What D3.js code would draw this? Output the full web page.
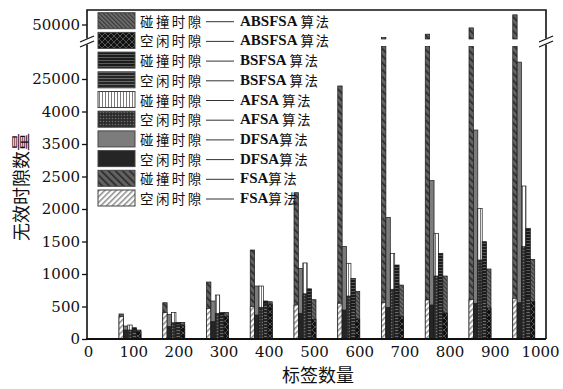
<!DOCTYPE html>
<html>
<head>
<meta charset="utf-8">
<script src="https://cdn.jsdelivr.net/npm/d3@7"></script>
<style>
  html, body { margin: 0; padding: 0; background: #fff; }
  svg { display: block; }
</style>
</head>
<body>
<svg id="chart" width="563" height="389"></svg>
<script>
// Number of tags per experiment (one group of columns per value)
const tagCounts = [100, 200, 300, 400, 500, 600, 700, 800, 900, 1000];
// Column order inside every group
const algorithms = ["FSA", "DFSA", "AFSA", "BSFSA", "ABSFSA"];

// Collision slots (碰撞时隙) per algorithm
const collisionFSA    = [385, 558, 877, 1369, 2251, 20500, 47300, 48000, 49300, 52000];
const collisionDFSA   = [200, 380, 585, 815, 1085, 1425, 1872, 2437, 3715, 27600];
const collisionAFSA   = [215, 410, 677, 815, 1170, 1165, 1318, 1626, 2010, 2354];
const collisionBSFSA  = [174, 256, 410, 585, 772, 933, 1138, 1318, 1497, 1703];
const collisionABSFSA = [138, 256, 410, 574, 605, 733, 830, 969, 1077, 1226];

// Idle slots (空闲时隙) per algorithm
const idleFSA    = [343, 405, 472, 497, 523, 550, 558, 600, 610, 626];
const idleDFSA   = [138, 190, 267, 369, 395, 446, 487, 523, 549, 558];
const idleAFSA   = [138, 250, 395, 488, 695, 661, 765, 969, 1215, 1420];
const idleBSFSA  = [128, 230, 370, 549, 430, 470, 520, 560, 600, 640];
const idleABSFSA = [112, 215, 345, 538, 300, 308, 343, 400, 477, 574];

// Axis ticks (the value axis is broken between 25000 and 50000)
const yTickValues = [0, 500, 1000, 1500, 2000, 2500, 3500, 4000, 25000];
const yTickAboveBreak = [50000];
const xTickValues = [0, 100, 200, 300, 400, 500, 600, 700, 800, 900, 1000];

// Legend rows, top to bottom
const legendSlotNames = ["碰撞时隙", "空闲时隙", "碰撞时隙", "空闲时隙", "碰撞时隙",
                         "空闲时隙", "碰撞时隙", "空闲时隙", "碰撞时隙", "空闲时隙"];
const legendAlgNames  = ["ABSFSA", "ABSFSA", "BSFSA", "BSFSA", "AFSA",
                         "AFSA", "DFSA", "DFSA", "FSA", "FSA"];
const legendSlotKeys  = ["coll", "idle", "coll", "idle", "coll",
                         "idle", "coll", "idle", "coll", "idle"];

const collisionData = { FSA: collisionFSA, DFSA: collisionDFSA, AFSA: collisionAFSA,
                        BSFSA: collisionBSFSA, ABSFSA: collisionABSFSA };
const idleData = { FSA: idleFSA, DFSA: idleDFSA, AFSA: idleAFSA,
                   BSFSA: idleBSFSA, ABSFSA: idleABSFSA };

// ---------- layout ----------
const plotLeft = 87, plotRight = 546, plotTop = 10, plotBottom = 339;
const step = 32.5;          // spacing between value-axis ticks
const lowCap = 30000;       // top of the lower (pre-break) segment
const highBase = 47000;     // bottom of the upper (post-break) segment

const svg = d3.select("#chart");
const defs = svg.append("defs");

// ---------- fill patterns ----------
function solid(id, color) {
  const p = defs.append("pattern").attr("id", id).attr("patternUnits", "userSpaceOnUse")
    .attr("width", 4).attr("height", 4);
  p.append("rect").attr("width", 4).attr("height", 4).attr("fill", color);
}
function stripes(id, bg, fg, size, angle, w) {
  const p = defs.append("pattern").attr("id", id).attr("patternUnits", "userSpaceOnUse")
    .attr("width", size).attr("height", size)
    .attr("patternTransform", `rotate(${angle})`);
  p.append("rect").attr("width", size).attr("height", size).attr("fill", bg);
  p.append("rect").attr("width", w).attr("height", size).attr("fill", fg);
}
function crosshatch(id, bg, fg, size, w) {
  const p = defs.append("pattern").attr("id", id).attr("patternUnits", "userSpaceOnUse")
    .attr("width", size).attr("height", size);
  p.append("rect").attr("width", size).attr("height", size).attr("fill", bg);
  p.append("path").attr("d", `M0,0L${size},${size}M${size},0L0,${size}`)
    .attr("stroke", fg).attr("stroke-width", w);
}
function dots(id, bg, fg, size, r) {
  const p = defs.append("pattern").attr("id", id).attr("patternUnits", "userSpaceOnUse")
    .attr("width", size).attr("height", size);
  p.append("rect").attr("width", size).attr("height", size).attr("fill", bg);
  p.append("circle").attr("cx", size / 2).attr("cy", size / 2).attr("r", r).attr("fill", fg);
}

stripes("coll-ABSFSA", "#6e6e6e", "#383838", 3, -45, 1.2);
crosshatch("idle-ABSFSA", "#111", "#555", 6, 1);
stripes("coll-BSFSA", "#1b1b1b", "#5a5a5a", 3, 90, 1);
stripes("idle-BSFSA", "#262626", "#7a7a7a", 3, 90, 0.8);
stripes("coll-AFSA", "#ffffff", "#7a7a7a", 3, 0, 1);
dots("idle-AFSA", "#2c2c2c", "#6e6e6e", 3, 0.8);
solid("coll-DFSA", "#7c7c7c");
solid("idle-DFSA", "#252525");
stripes("coll-FSA", "#626262", "#2a2a2a", 5, -45, 1.6);
stripes("idle-FSA", "#ffffff", "#8a8a8a", 4, 45, 1.5);

// ---------- scales ----------
const lowDomain = yTickValues.concat([lowCap]);
const yLow = d3.scaleLinear()
  .domain(lowDomain)
  .range(lowDomain.map((d, i) => plotBottom - i * step));
const yHigh = d3.scaleLinear().domain([highBase, 50000]).range([39, 24.5]);

const xGroup = d3.scaleLinear().domain([0, 1000]).range([86.25, 523.75]);
const xInner = d3.scaleBand().domain(algorithms).range([-11, 11]).padding(0);
const xAxisScale = d3.scaleLinear().domain([0, 1000]).range([88, 540]);

// ---------- bars ----------
const columns = [];
tagCounts.forEach((t, i) => {
  algorithms.forEach(a => {
    columns.push({ tags: t, alg: a, coll: collisionData[a][i], idle: idleData[a][i] });
  });
});

const barG = svg.append("g");
function drawBar(g, d, value, fillId) {
  const x = xGroup(d.tags) + xInner(d.alg);
  const w = xInner.bandwidth();
  const top = yLow(Math.min(value, lowCap));
  g.append("rect")
    .attr("x", x).attr("y", top)
    .attr("width", w).attr("height", yLow(0) - top)
    .attr("fill", `url(#${fillId})`)
    .attr("stroke", "#1a1a1a").attr("stroke-width", 0.7);
  if (value > highBase) {
    const hTop = yHigh(value);
    g.append("rect")
      .attr("x", x).attr("y", hTop)
      .attr("width", w).attr("height", yHigh(highBase) - hTop)
      .attr("fill", `url(#${fillId})`)
      .attr("stroke", "#1a1a1a").attr("stroke-width", 0.7);
  }
}
columns.forEach(d => {
  const g = barG.append("g");
  drawBar(g, d, d.coll, "coll-" + d.alg);
  drawBar(g, d, d.idle, "idle-" + d.alg);
});

// ---------- axes ----------
const tickFont = "'DejaVu Serif', serif";
const axisColor = "#111";

const yAxisG = svg.append("g")
  .attr("transform", `translate(${plotLeft},0)`)
  .call(d3.axisLeft(yLow).tickValues(yTickValues).tickSize(5).tickPadding(2)
        .tickFormat(d3.format("d")));
const yAxisHighG = svg.append("g")
  .attr("transform", `translate(${plotLeft},0)`)
  .call(d3.axisLeft(yHigh).tickValues(yTickAboveBreak).tickSize(5).tickPadding(2)
        .tickFormat(d3.format("d")));
const xAxisG = svg.append("g")
  .attr("transform", `translate(0,${plotBottom})`)
  .call(d3.axisBottom(xAxisScale).tickValues(xTickValues).tickSize(0).tickPadding(7)
        .tickFormat(d3.format("d")));

[yAxisG, yAxisHighG, xAxisG].forEach(g => {
  g.select(".domain").remove();
  g.selectAll("line").attr("stroke", axisColor).attr("stroke-width", 1.3);
  g.selectAll("text").attr("font-family", tickFont).attr("font-size", 15).attr("fill", "#111");
});

// frame and axis lines, with gaps at the break
const breakLow = 44.5, breakHigh = 38.5;
const frame = svg.append("g").attr("stroke", axisColor).attr("stroke-width", 1.6).attr("fill", "none");
frame.append("path").attr("d",
  `M${plotLeft},${plotBottom}V${breakLow}M${plotLeft},${breakHigh}V${plotTop}H${plotRight}V${breakHigh}` +
  `M${plotRight},${breakLow}V${plotBottom}`);
frame.append("path").attr("d", `M${plotLeft - 1},${plotBottom}H${plotRight}`).attr("stroke-width", 2);

// break marks
const breaks = svg.append("g").attr("stroke", axisColor).attr("stroke-width", 1.2);
[plotLeft, plotRight].forEach(cx => {
  breaks.append("line").attr("x1", cx - 7).attr("y1", breakLow + 2.5).attr("x2", cx + 7).attr("y2", breakLow - 3.5);
  breaks.append("line").attr("x1", cx - 7).attr("y1", breakHigh + 3.5).attr("x2", cx + 7).attr("y2", breakHigh - 2.5);
});

// ---------- titles ----------
const cjk = "'Noto Sans CJK SC', sans-serif";
svg.append("text")
  .attr("x", 318).attr("y", 382)
  .attr("text-anchor", "middle")
  .attr("font-family", cjk).attr("font-size", 18).attr("fill", "#111")
  .text("标签数量");
// rotated title kept in its own layer so it renders with grayscale antialiasing
svg.append("g").attr("opacity", 0.999)
  .append("text")
  .attr("transform", "translate(20,187) rotate(-90)")
  .attr("text-anchor", "middle").attr("dominant-baseline", "central")
  .attr("font-family", cjk).attr("font-size", 18).attr("fill", "#111")
  .text("无效时隙数量");

// ---------- legend ----------
const legendG = svg.append("g");
const rowY = d3.scaleLinear().domain([0, 9]).range([20.7, 198]);
legendSlotNames.forEach((name, i) => {
  const cy = rowY(i);
  const row = legendG.append("g");
  row.append("rect")
    .attr("x", 98).attr("y", cy - 8).attr("width", 37).attr("height", 16)
    .attr("fill", `url(#${legendSlotKeys[i]}-${legendAlgNames[i]})`)
    .attr("stroke", "#444").attr("stroke-width", 1);
  row.append("text")
    .attr("x", 140).attr("y", cy).attr("dominant-baseline", "central")
    .attr("font-family", cjk).attr("font-size", 13.5).attr("letter-spacing", 2.4)
    .attr("fill", "#111")
    .text(name);
  row.append("line")
    .attr("x1", 206).attr("x2", 234).attr("y1", cy + 1).attr("y2", cy + 1)
    .attr("stroke", "#333").attr("stroke-width", 1);
  const t = row.append("text")
    .attr("x", 240).attr("y", cy).attr("dominant-baseline", "central")
    .attr("fill", "#111");
  t.append("tspan")
    .attr("font-family", "'Liberation Serif', serif").attr("font-weight", "bold").attr("font-size", 15)
    .text(legendAlgNames[i] + (legendAlgNames[i] === "FSA" || legendAlgNames[i] === "DFSA" ? "" : " "));
  t.append("tspan")
    .attr("font-family", cjk).attr("font-size", 13.5).attr("letter-spacing", 1.5)
    .text("算法");
});
</script>
</body>
</html>
